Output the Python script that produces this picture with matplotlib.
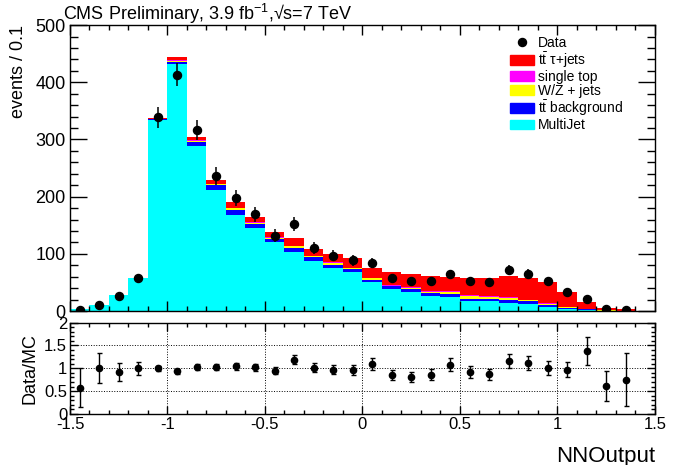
import matplotlib
matplotlib.use("Agg")
import matplotlib.pyplot as plt
from matplotlib.lines import Line2D
from matplotlib.patches import Patch
from matplotlib.ticker import MultipleLocator
import numpy as np

plt.rcParams["font.family"] = ["Liberation Sans", "DejaVu Sans"]
plt.rcParams["mathtext.fontset"] = "custom"
plt.rcParams["mathtext.rm"] = "Liberation Sans"
plt.rcParams["mathtext.it"] = "Liberation Sans:italic"

# 30 bins of width 0.1 on [-1.5, 1.5]
edges = np.round(np.arange(-1.5, 1.51, 0.1), 2)

data = [2, 10, 26, 58, 339, 413, 317, 236, 198, 169, 132, 152, 110, 97, 89,
        84, 58, 52, 53, 64, 53, 51, 72, 65, 52, 33, 22, 3, 2, np.nan]
data_err = [1.4, 3.2, 5.1, 7.6, 18.4, 20.3, 17.8, 15.4, 14.1, 13.0, 11.5, 12.3, 10.5, 9.8, 9.4,
            9.2, 7.6, 7.2, 7.3, 8.0, 7.3, 7.1, 8.5, 8.1, 7.2, 5.7, 4.7, 1.7, 1.4, np.nan]

multijet = [3.3, 9.8, 27.5, 57, 334, 432, 288, 212, 168, 146, 120, 104, 87, 75, 68,
            51, 38, 34, 26, 25, 17.5, 17.5, 15, 13, 7, 3, 1.5, 0.5, 0.3, 0.2]
tt_bkg = [0.1, 0.1, 0.2, 0.5, 1.5, 4, 7, 8, 9, 6, 6, 7, 7, 6, 5,
          4, 5, 5, 5, 5, 4, 4, 4, 4, 3, 3, 1.5, 0.5, 0.3, 0.1]
wz_jets = [0.05, 0.05, 0.2, 0.3, 0.5, 2, 3, 2, 3, 2, 2, 2, 2, 3, 2,
           2, 1, 2, 3, 4, 5, 4, 4, 2, 3, 0.5, 0.3, 0.1, 0.1, 0.0]
single_top = [0.0, 0.0, 0.05, 0.1, 0.5, 1, 1, 1, 1, 1, 1, 1, 1, 1, 1,
              1, 1, 1, 1, 1, 1, 1, 1, 1, 1, 1, 0.5, 0.2, 0.2, 0.0]
tt_tau = [0.05, 0.05, 0.1, 0.3, 1.5, 5, 6, 6, 9, 10, 10, 14, 11, 15, 16,
          18, 23, 23, 27, 24, 31, 32, 38, 38, 37, 26.5, 12, 3.5, 1.9, 0.2]

ratio = [0.57, 1.0, 0.92, 1.0, 1.0, 0.93, 1.03, 1.03, 1.04, 1.02, 0.95, 1.19, 1.01, 0.97, 0.97,
         1.1, 0.86, 0.8, 0.86, 1.08, 0.91, 0.87, 1.16, 1.11, 1.0, 0.97, 1.38, 0.62, 0.75, np.nan]
ratio_err = [0.43, 0.33, 0.2, 0.14, 0.05, 0.05, 0.06, 0.07, 0.07, 0.08, 0.08, 0.1, 0.1, 0.1, 0.11,
             0.13, 0.11, 0.11, 0.12, 0.14, 0.13, 0.12, 0.15, 0.15, 0.15, 0.17, 0.31, 0.33, 0.58, np.nan]

layers = [
    (multijet, "#00ffff", "MultiJet"),
    (tt_bkg, "#0000ff", r"$\mathrm{t\bar{t}}$ background"),
    (wz_jets, "#ffff00", "W/Z + jets"),
    (single_top, "#ff00ff", "single top"),
    (tt_tau, "#ff0000", r"$\mathrm{t\bar{t}}$ τ+jets"),
]

centers = 0.5 * (edges[:-1] + edges[1:])

fig = plt.figure(figsize=(6.77, 4.65), dpi=100)
ax = fig.add_axes([0.1034, 0.331, 0.864, 0.615])
ax2 = fig.add_axes([0.1034, 0.110, 0.864, 0.196])

bottom = np.zeros(len(centers))
for values, color, _ in layers:
    top = bottom + np.array(values)
    ax.stairs(top, edges, baseline=bottom, fill=True, color=color, lw=0)
    bottom = top

ax.errorbar(centers, data, yerr=data_err, fmt="o", color="k", ms=5.8,
            elinewidth=1.1, capsize=0, zorder=5)

ax.set_xlim(-1.5, 1.5)
ax.set_ylim(0, 500)
ax.xaxis.set_major_locator(MultipleLocator(0.5))
ax.xaxis.set_minor_locator(MultipleLocator(0.1))
ax.yaxis.set_major_locator(MultipleLocator(100))
ax.yaxis.set_minor_locator(MultipleLocator(20))
ax.tick_params(which="both", direction="in", top=True, right=True, labelbottom=False,
               labelsize=13, width=1)
ax.tick_params(axis="y", which="major", length=12, pad=3)
ax.tick_params(axis="y", which="minor", length=6)
ax.tick_params(axis="x", which="major", length=7)
ax.tick_params(axis="x", which="minor", length=3.5)
ax.set_ylabel("events / 0.1", fontsize=13, loc="top", labelpad=6)

handles = [Line2D([], [], marker="o", color="k", ls="none", ms=5.8)]
labels = ["Data"]
for values, color, name in layers[::-1]:
    handles.append(Patch(facecolor=color, edgecolor=color))
    labels.append(name)
ax.legend(handles, labels, loc="upper left", bbox_to_anchor=(0.735, 1.0), frameon=False,
          fontsize=10, handlelength=1.7, handleheight=0.7, labelspacing=0.02,
          handletextpad=0.3, borderpad=0.25)

fig.text(0.093, 0.971, "CMS Preliminary, 3.9 fb$^{-1}$,√s=7 TeV", fontsize=13,
         va="center", ha="left")

ax2.errorbar(centers, ratio, yerr=ratio_err, fmt="o", color="k", ms=4.5,
             elinewidth=1, capsize=1.8, capthick=1)
ax2.set_xlim(-1.5, 1.5)
ax2.set_ylim(0, 2)
ax2.xaxis.set_minor_locator(MultipleLocator(0.1))
ax2.yaxis.set_minor_locator(MultipleLocator(0.1))
ax2.set_xticks([-1.5, -1, -0.5, 0, 0.5, 1, 1.5])
ax2.set_xticklabels(["-1.5", "-1", "-0.5", "0", "0.5", "1", "1.5"])
ax2.set_yticks([0, 0.5, 1, 1.5, 2])
ax2.set_yticklabels(["0", "0.5", "1", "1.5", "2"])
ax2.tick_params(which="both", direction="in", top=True, right=True, labelsize=12, width=1)
ax2.tick_params(which="major", length=6, pad=2)
ax2.tick_params(which="minor", length=3)
ax2.grid(True, which="major", ls=":", color="k", lw=0.7)
ax2.set_ylabel("Data/MC", fontsize=13, labelpad=4)
ax2.set_xlabel("NNOutput", fontsize=16, loc="right", labelpad=10)

for a in (ax, ax2):
    for s in a.spines.values():
        s.set_linewidth(1.0)

fig.savefig("out.png", dpi=100)
